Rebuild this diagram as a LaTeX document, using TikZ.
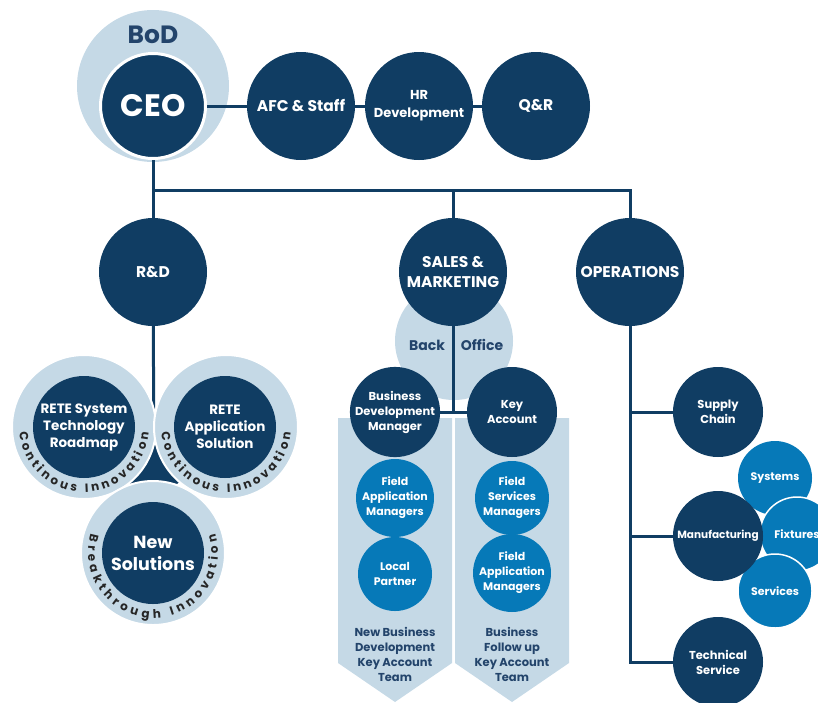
\documentclass[tikz,border=0pt]{standalone}
\usepackage{fontspec}
\setmainfont{Poppins}
\usetikzlibrary{decorations.text}
\definecolor{navy}{HTML}{103D63}
\definecolor{midblue}{HTML}{0679B8}
\definecolor{pale}{HTML}{C5D9E6}
\definecolor{ink}{HTML}{23446B}
\pgfdeclarelayer{back}
\pgfdeclarelayer{wires}
\pgfsetlayers{back,wires,main}
\tikzset{
  bigdot/.style={circle,fill=navy,text=white,inner sep=0pt,minimum size=108pt,align=center,font=\bfseries\fontsize{15.5}{20}\selectfont},
  meddot/.style={bigdot,minimum size=90pt,font=\bfseries\fontsize{11.5}{15}\selectfont},
  subdot/.style={bigdot,fill=midblue,minimum size=74pt,font=\bfseries\fontsize{11}{15}\selectfont},
  ringdot/.style={bigdot,minimum size=102pt,font=\bfseries\fontsize{13.5}{17}\selectfont},
  paletext/.style={text=ink,align=center,font=\bfseries\fontsize{11.5}{15}\selectfont},
  halo/.style={fill=pale,draw=white,line width=2pt},
  wire/.style={navy,line width=3pt},
  curved/.style={decorate,decoration={text along path,text align={fit to path},
    text={|\bfseries\fontsize{12}{14}\selectfont\color{black!85}|#1}}}
}
\begin{document}
\begin{tikzpicture}[x=1pt,y=1pt]
\useasboundingbox (0,0) rectangle (818,-702);

% board and head office
\begin{pgfonlayer}{back}
\fill[pale] (153,-86) circle (76);
\end{pgfonlayer}
\node[paletext,font=\bfseries\fontsize{25}{27}\selectfont] (bod) at (153,-35) {BoD};
\node[bigdot,minimum size=105pt,draw=white,line width=3pt,font=\bfseries\fontsize{31}{33}\selectfont] (ceo) at (153,-106) {CEO};
\node[bigdot] (afc) at (301,-106) {AFC \& Staff};
\node[bigdot,font=\bfseries\fontsize{13}{18}\selectfont] (hr) at (419,-106) {HR\\Development};
\node[bigdot] (qr) at (536,-106) {Q\&R};
\coordinate (bus) at (453,-190);

% departments
\node[bigdot] (rd) at (153,-272) {R\&D};
\node[bigdot] (sales) at (453,-272) {SALES \&\\MARKETING};
\node[bigdot] (ops) at (630,-272) {OPERATIONS};

% R&D cluster
\coordinate (gap) at (154,-462);
\begin{pgfonlayer}{back}
\draw[wire] (rd) -- (gap);
\fill[navy] (gap) circle (32);
\filldraw[halo] (84,-427) circle (72);
\filldraw[halo] (226,-427) circle (72);
\filldraw[halo] (153,-553) circle (72);
\end{pgfonlayer}
\node[ringdot] (roadmap) at (84,-427) {RETE System\\Technology\\Roadmap};
\node[ringdot] (appsol) at (225,-427) {RETE\\Application\\Solution};
\node[ringdot,font=\bfseries\fontsize{17.5}{22}\selectfont] (newsol) at (153,-553) {New\\Solutions};
\path[curved={Continous Innovation}] (84,-427) ++(185:65) arc[start angle=185,end angle=355,radius=65];
\path[curved={Continous Innovation}] (226,-427) ++(185:65) arc[start angle=185,end angle=355,radius=65];
\path[curved={Breakthrough Innovation}] (153,-553) ++(163:65) arc[start angle=163,end angle=377,radius=65];

% sales teams
\begin{pgfonlayer}{back}
\fill[pale] (454,-341) circle (59);
\fill[pale] (338,-418) -- (452,-418) -- (452,-663) -- (395,-702) -- (338,-663) -- cycle;
\fill[pale] (455,-418) -- (569,-418) -- (569,-663) -- (512,-702) -- (455,-663) -- cycle;
\end{pgfonlayer}
\node[paletext,font=\bfseries\fontsize{14}{16}\selectfont] (back) at (427,-345) {Back};
\node[paletext,font=\bfseries\fontsize{14}{16}\selectfont] (office) at (482,-345) {Office};
\node[meddot] (bdm) at (395,-412) {Business\\Development\\Manager};
\node[meddot] (ka) at (512,-412) {Key\\Account};
\node[subdot] (fam) at (395,-498) {Field\\Application\\Managers};
\node[subdot] (lp) at (395,-574) {Local\\Partner};
\node[subdot] (fsm) at (512,-498) {Field\\Services\\Managers};
\node[subdot] (fam2) at (512,-573) {Field\\Application\\Managers};
\node[paletext] (newbiz) at (395,-654) {New Business\\Development\\Key Account\\Team};
\node[paletext] (follow) at (512,-654) {Business\\Follow up\\Key Account\\Team};

% operations
\node[meddot] (sc) at (718,-412) {Supply\\Chain};
\node[subdot] (sys) at (775,-478) {Systems};
\node[subdot,draw=white,line width=1.5pt] (fix) at (797,-534) {Fixtures};
\node[subdot,draw=white,line width=1.5pt] (serv) at (775,-591) {Services};
\node[meddot,font=\bfseries\fontsize{10.5}{15}\selectfont] (mfg) at (718,-536) {Manufacturing};
\node[meddot] (ts) at (718,-662) {Technical\\Service};

\begin{pgfonlayer}{wires}
\draw[wire] (ceo) -- (afc) -- (hr) -- (qr);
\draw[wire] (ceo) -- (rd);
\draw[wire] (ceo |- bus) -| (ops);
\draw[wire] (sales) -- (bus);
\draw[wire] (sales) -- (sales |- bdm);
\draw[wire] (bdm) -- (ka);
\draw[wire] (ops) |- (ts);
\draw[wire] (ops |- sc) -- (sc);
\draw[wire] (ops |- mfg) -- (mfg);
\end{pgfonlayer}

\end{tikzpicture}
\end{document}
